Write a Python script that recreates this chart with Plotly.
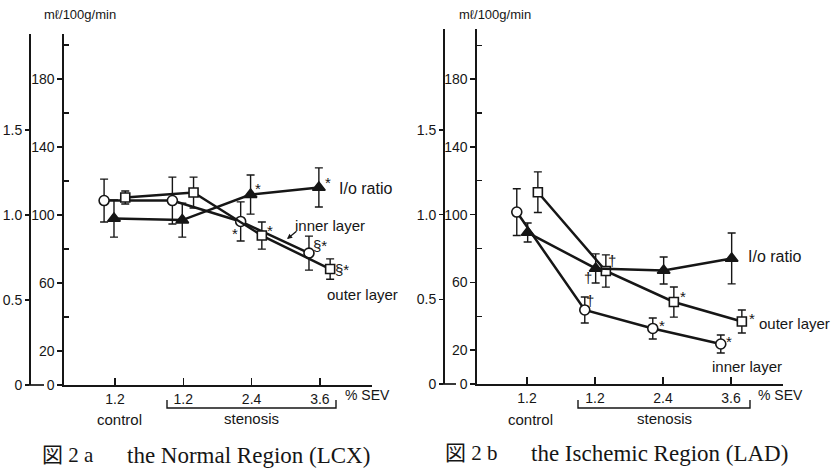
import plotly.graph_objects as go

W, H = 832, 468

# ---------------- data ----------------
sev_positions = [0, 1, 2, 3]
sev_labels = ["1.2", "1.2", "2.4", "3.6"]
flow_ticks = [0, 20, 60, 100, 140, 180]
flow_minor_ticks = [40, 80, 120, 160, 200]
ratio_ticks = [0, 0.5, 1.0, 1.5]
ratio_tick_text = ["0", "0.5", "1.0", "1.5"]

# Fig 2a  the Normal Region (LCX)
a_inner = [108.5, 108.5, 96.2, 77.6]
a_inner_err = [12.6, 13.8, 11.5, 10.0]
a_outer = [110.3, 113.2, 87.9, 68.2]
a_outer_err = [3.8, 9.1, 8.0, 6.0]
a_ratio = [0.979, 0.97, 1.12, 1.162]
a_ratio_err = [0.109, 0.10, 0.115, 0.115]

# Fig 2b  the Ischemic Region (LAD)
b_inner = [101.5, 43.7, 32.8, 23.6]
b_inner_err = [13.8, 7.7, 6.2, 5.3]
b_outer = [113.2, 66.7, 48.4, 36.9]
b_outer_err = [12.0, 9.5, 8.9, 6.8]
b_ratio = [0.894, 0.682, 0.67, 0.741]
b_ratio_err = [0.056, 0.086, 0.08, 0.15]

INK = "#161616"
SANS = "Liberation Sans, Arial, sans-serif"
SERIF = "Liberation Serif, Noto Sans CJK JP, serif"


def px(x):
    return x / W


def py(y):
    return 1 - y / H


fig = go.Figure()


def add_series(xa, ya, vals, errs, symbol, fill, dodge, size):
    fig.add_trace(go.Scatter(
        x=[p + dodge for p in sev_positions], y=vals, mode="lines+markers",
        xaxis=xa, yaxis=ya,
        line=dict(color=INK, width=2.5),
        marker=dict(symbol=symbol, size=size, color=fill, line=dict(color=INK, width=1.6)),
        error_y=dict(type="data", array=errs, visible=True, color=INK, thickness=1.4, width=4),
        cliponaxis=False, showlegend=False, hoverinfo="skip"))


# panel a
add_series("x", "y2", a_ratio, a_ratio_err, "triangle-up", INK, -0.015, 11)
add_series("x", "y", a_inner, a_inner_err, "circle", "white", -0.16, 10)
add_series("x", "y", a_outer, a_outer_err, "square", "white", 0.15, 9)
# panel b
add_series("x2", "y4", b_ratio, b_ratio_err, "triangle-up", INK, 0.01, 11)
add_series("x2", "y3", b_inner, b_inner_err, "circle", "white", -0.15, 10)
add_series("x2", "y3", b_outer, b_outer_err, "square", "white", 0.16, 9)

tickfont = dict(family=SANS, size=14, color=INK)


def xaxis_cfg(x0, x1, rng, anchor):
    return dict(domain=[px(x0), px(x1)], range=rng, anchor=anchor, automargin=False,
                tickmode="array", tickvals=sev_positions, ticktext=sev_labels,
                ticks="inside", ticklen=7, tickwidth=1.4, tickcolor=INK,
                showline=True, linewidth=1.7, linecolor=INK,
                showgrid=False, zeroline=False, tickfont=tickfont, fixedrange=True)


def flow_axis_cfg(y0, y1, top, anchor):
    return dict(domain=[py(y0), py(y1)], range=[0, top], anchor=anchor, automargin=False,
                tickmode="array", tickvals=flow_ticks, ticktext=[str(v) for v in flow_ticks],
                ticks="outside", ticklen=5, tickwidth=1.4, tickcolor=INK,
                minor=dict(tickmode="array", tickvals=flow_minor_ticks, ticks="inside",
                           ticklen=5, tickwidth=1.4, tickcolor=INK),
                showline=True, linewidth=1.7, linecolor=INK,
                showgrid=False, zeroline=False, tickfont=tickfont, fixedrange=True)


def ratio_axis_cfg(overlay, xpos, top):
    return dict(overlaying=overlay, anchor="free", position=px(xpos), side="left",
                automargin=False,
                range=[0, top], tickmode="array", tickvals=ratio_ticks, ticktext=ratio_tick_text,
                ticks="outside", ticklen=4, tickwidth=1.4, tickcolor=INK,
                showline=True, linewidth=1.7, linecolor=INK,
                showgrid=False, zeroline=False, tickfont=tickfont, fixedrange=True)


a_top = (385 - 34) / 1.70
b_top = (384 - 29) / 1.694

fig.update_layout(
    width=W, height=H, margin=dict(l=0, r=0, t=0, b=0, pad=0, autoexpand=False),
    paper_bgcolor="white", plot_bgcolor="rgba(0,0,0,0)",
    xaxis=xaxis_cfg(64, 372, [-0.747, 3.763], "y"),
    yaxis=flow_axis_cfg(385, 34, a_top, "x"),
    yaxis2=ratio_axis_cfg("y", 29, a_top / 100),
    xaxis2=xaxis_cfg(477, 783, [-0.735, 3.765], "y3"),
    yaxis3=flow_axis_cfg(384, 29, b_top, "x2"),
    yaxis4=ratio_axis_cfg("y3", 443, b_top / 100),
)

ann = []


def text(x, y, s, size=14, family=SANS):
    # x, y: centre of the text in page pixels
    ann.append(dict(x=px(x), y=py(y), xref="paper", yref="paper", text=s, showarrow=False,
                    xanchor="center", yanchor="middle", borderpad=0,
                    font=dict(family=family, size=size, color=INK)))


# headers / axis texts
text(79.5, 14, "mℓ/100g/min", 13)
text(495, 15, "mℓ/100g/min", 13)
text(367, 395, "% SEV", 14)
text(780, 395, "% SEV", 14)
text(119, 419, "control", 15)
text(252, 418, "stenosis", 15)
text(530, 419, "control", 15)
text(664, 418, "stenosis", 15)

# series labels
text(365, 188, "I/o ratio", 16)
text(330, 225, "inner layer", 15)
text(362.5, 294, "outer layer", 15)
text(774, 256, "I/o ratio", 16)
text(794, 323, "outer layer", 15)
text(747, 366, "inner layer", 15)

# captions
text(67.5, 455, "図 2 a", 21, family=SERIF)
text(248, 455, "the Normal Region (LCX)", 23, family=SERIF)
text(471.5, 453, "図 2 b", 21, family=SERIF)
text(659, 453, "the Ischemic Region (LAD)", 23, family=SERIF)

# arrow for "inner layer" (panel a)
ann.append(dict(x=px(287), y=py(239), xref="paper", yref="paper", text="", showarrow=True,
                ax=11, ay=-9, arrowhead=2, arrowsize=0.8, arrowwidth=1.3, arrowcolor=INK))


# significance marks next to points
def mark(xa, ya, vals, dodge, i, s, dx, dy):
    ann.append(dict(x=sev_positions[i] + dodge, y=vals[i], xref=xa, yref=ya, text=s,
                    showarrow=False, xshift=dx, yshift=-dy, xanchor="center", yanchor="middle",
                    borderpad=0, font=dict(family=SANS, size=15, color=INK)))


mark("x", "y2", a_ratio, -0.015, 2, "*", 7, -6)
mark("x", "y2", a_ratio, -0.015, 3, "*", 9, -5)
mark("x", "y", a_inner, -0.16, 2, "*", -6, 12)
mark("x", "y", a_outer, 0.15, 2, "*", 8, -5)
mark("x", "y", a_inner, -0.16, 3, "§*", 11, -8)
mark("x", "y", a_outer, 0.15, 3, "§*", 12, 0)

mark("x2", "y3", b_inner, -0.15, 1, "†", 5, -9)
mark("x2", "y4", b_ratio, 0.01, 1, "†", -8, 9)
mark("x2", "y3", b_outer, 0.16, 1, "†", 6, -11)
mark("x2", "y3", b_outer, 0.16, 2, "*", 9, -6)
mark("x2", "y3", b_inner, -0.15, 2, "*", 9, -3)
mark("x2", "y3", b_inner, -0.15, 3, "*", 8, -3)
mark("x2", "y3", b_outer, 0.16, 3, "*", 10, -3)

fig.update_layout(annotations=ann)

# brackets under "stenosis" and feet of ratio axes
shapes = []
for x0, x1 in [(167, 336), (578, 750)]:
    shapes.append(dict(type="path", xref="paper", yref="paper",
                       path=f"M {px(x0)} {py(400)} L {px(x0)} {py(408)} L {px(x1)} {py(408)} L {px(x1)} {py(400)}",
                       line=dict(color=INK, width=1.4)))
for x0, x1, y in [(29, 44, 385), (443, 456, 384)]:
    shapes.append(dict(type="line", xref="paper", yref="paper", x0=px(x0), x1=px(x1),
                       y0=py(y), y1=py(y), line=dict(color=INK, width=1.7)))
fig.update_layout(shapes=shapes)

fig.write_html("out.html", config={"displayModeBar": False, "staticPlot": True},
               post_script="document.body.style.margin='0';")
